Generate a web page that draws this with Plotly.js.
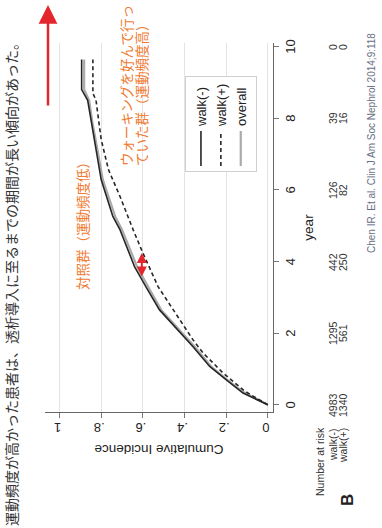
<!DOCTYPE html>
<html><head><meta charset="utf-8">
<script src="https://cdn.plot.ly/plotly-3.0.1.min.js"></script>
<style>
html,body{margin:0;padding:0;overflow:hidden;background:#fff;width:382px;height:528px;}
#wrap{position:absolute;left:0;top:0;width:528px;height:382px;transform-origin:0 0;transform:translateY(528px) rotate(-90deg);}
#chart{width:528px;height:382px;}
</style></head><body>
<div id="wrap"><div id="chart"></div></div>
<script>
// ---- data ----
const seriesNames = ["walk(-)", "walk(+)", "overall"];
const yearsWalkNeg = [0, 0.33, 0.7, 1.07, 1.63, 2.65, 3.27, 3.86, 4.89, 5.26, 6.28, 6.56, 7.12, 7.87, 8.5, 8.8, 9.64];
const incWalkNeg   = [0, 0.119, 0.199, 0.279, 0.36, 0.52, 0.583, 0.64, 0.71, 0.744, 0.80, 0.808, 0.824, 0.848, 0.865, 0.894, 0.894];
const yearsWalkPos = [0, 0.38, 0.89, 1.45, 1.82, 2.37, 3.1, 3.3, 4.24, 4.89, 5.82, 6.56, 7.4, 8.0, 8.5, 8.7, 9.64];
const incWalkPos   = [0, 0.11, 0.215, 0.311, 0.36, 0.423, 0.503, 0.527, 0.60, 0.647, 0.71, 0.765, 0.80, 0.815, 0.825, 0.84, 0.84];
const yearsOverall = [0, 0.35, 0.7, 1.07, 1.63, 2.65, 3.27, 3.86, 4.89, 5.26, 6.28, 6.56, 7.12, 7.87, 8.5, 8.8, 9.64];
const incOverall   = [0, 0.115, 0.195, 0.272, 0.352, 0.512, 0.572, 0.628, 0.70, 0.733, 0.792, 0.80, 0.818, 0.842, 0.858, 0.882, 0.882];

const xTickVals = [0, 2, 4, 6, 8, 10];
const yTickVals = [0, 0.2, 0.4, 0.6, 0.8, 1];
const yTickText = ["0", ".2", ".4", ".6", ".8", "1"];

const riskYears = [0, 2, 4, 6, 8, 10];
const riskWalkNeg = [4983, 1295, 442, 126, 39, 0];
const riskWalkPos = [1340, 561, 250, 82, 16, 0];
const riskLabels = ["walk(-)", "walk(+)"];

const gapYear = [3.54, 4.24];   // red double arrow (time gap) at this incidence
const gapInc = 0.605;

const captionText = "運動頻度が高かった患者は、透析導入に至るまでの期間が長い傾向があった。";
const lowGroupText = "対照群（運動頻度低）";
const highGroupLines = ["ウォーキングを好んで行っ", "ていた群（運動頻度高）"];
const citationText = "Chen IR. Et al. Clin J Am Soc Nephrol 2014;9:118";

// ---- layout helpers (pixel -> paper) ----
const W = 528, H = 382, ML = 116, MR = 43, MT = 45, MB = 109;
const PW = W - ML - MR, PH = H - MT - MB;
const px = u => (u - ML) / PW;
const py = v => (H - MB - v) / PH;

const jp = "Noto Sans CJK JP, sans-serif";
const ar = "Arial, Liberation Sans, sans-serif";
const orange = "#f07a30";

const traces = [
  {x: yearsOverall, y: incOverall, name: seriesNames[2], mode: "lines", legendrank: 3,
   line: {color: "#aaaaaa", width: 2.2}},
  {x: yearsWalkNeg, y: incWalkNeg, name: seriesNames[0], mode: "lines", legendrank: 1,
   line: {color: "#262626", width: 1.6}},
  {x: yearsWalkPos, y: incWalkPos, name: seriesNames[1], mode: "lines", legendrank: 2,
   line: {color: "#262626", width: 1.6, dash: "4px,3px"}}
];

const ann = [];
ann.push({text: captionText, xref: "paper", yref: "paper", x: px(494), y: py(11),
  xanchor: "right", yanchor: "middle", showarrow: false, font: {family: jp, size: 14, color: "#333"}});
ann.push({text: "", xref: "paper", yref: "paper", x: px(523), y: py(48), ax: -102, ay: 0,
  showarrow: true, arrowcolor: "#e3262b", arrowwidth: 2.5, arrowhead: 2, arrowsize: 1.5});
ann.push({text: lowGroupText, xref: "paper", yref: "paper", x: px(236), y: py(82),
  xanchor: "left", yanchor: "middle", showarrow: false, font: {family: jp, size: 13.5, color: orange}});
highGroupLines.forEach((t, i) => ann.push({text: t, xref: "paper", yref: "paper", x: px(360), y: py(126 + 15 * i),
  xanchor: "left", yanchor: "middle", showarrow: false, font: {family: jp, size: 13.5, color: orange}}));
ann.push({text: "", xref: "x", yref: "y", x: gapYear[1], y: gapInc, axref: "x", ayref: "y", ax: gapYear[0], ay: gapInc,
  showarrow: true, arrowside: "end+start", arrowcolor: "#e3262b", arrowwidth: 2, arrowhead: 2, arrowsize: 1});
ann.push({text: "Number at risk", xref: "paper", yref: "paper", x: px(30), y: py(320),
  xanchor: "left", yanchor: "middle", showarrow: false, font: {family: ar, size: 10.5, color: "#333"}});
[riskWalkNeg, riskWalkPos].forEach((row, r) => {
  const v = 333 + 10 * r;
  ann.push({text: riskLabels[r], xref: "paper", yref: "paper", x: px(102), y: py(v),
    xanchor: "right", yanchor: "middle", showarrow: false, font: {family: ar, size: 10.5, color: "#333"}});
  row.forEach((n, i) => ann.push({text: String(n), xref: "x", yref: "paper", x: riskYears[i], y: py(v),
    xanchor: "center", yanchor: "middle", showarrow: false, font: {family: ar, size: 10.5, color: "#333"}}));
});
ann.push({text: "<b>B</b>", xref: "paper", yref: "paper", x: px(28), y: py(347),
  xanchor: "center", yanchor: "middle", showarrow: false, font: {family: ar, size: 17, color: "#222"}});
ann.push({text: citationText, xref: "paper", yref: "paper", x: px(273), y: py(371),
  xanchor: "left", yanchor: "middle", showarrow: false, font: {family: ar, size: 10, color: "#6a6e82"}});

const layout = {
  width: W, height: H,
  margin: {l: ML, r: MR, t: MT, b: MB, pad: 0},
  paper_bgcolor: "#fff", plot_bgcolor: "#fff",
  showlegend: true,
  legend: {x: px(356), y: py(185), xanchor: "left", yanchor: "top", bgcolor: "#fff",
    bordercolor: "#cfcfcf", borderwidth: 1, font: {family: ar, size: 13, color: "#222"}, itemwidth: 35},
  xaxis: {range: [-0.2, 10.1], tickvals: xTickVals, ticks: "outside", ticklen: 5, tickcolor: "#777",
    showline: true, linecolor: "#666", linewidth: 1, showgrid: false, zeroline: false,
    tickfont: {family: ar, size: 13, color: "#222"},
    title: {text: "year", font: {family: ar, size: 13.5, color: "#222"}, standoff: 6}},
  yaxis: {range: [-0.025, 1.07], tickvals: yTickVals, ticktext: yTickText, tickangle: -90,
    ticks: "outside", ticklen: 5, tickcolor: "#777",
    showline: true, linecolor: "#666", linewidth: 1, showgrid: true, gridcolor: "#e4e4e4", gridwidth: 1, zeroline: false,
    tickfont: {family: ar, size: 13, color: "#222"},
    title: {text: "Cumulative Incidence", font: {family: ar, size: 13.5, color: "#222"}, standoff: 6}},
  annotations: ann
};

Plotly.newPlot("chart", traces, layout, {staticPlot: true, displayModeBar: false});
</script>
</body></html>
